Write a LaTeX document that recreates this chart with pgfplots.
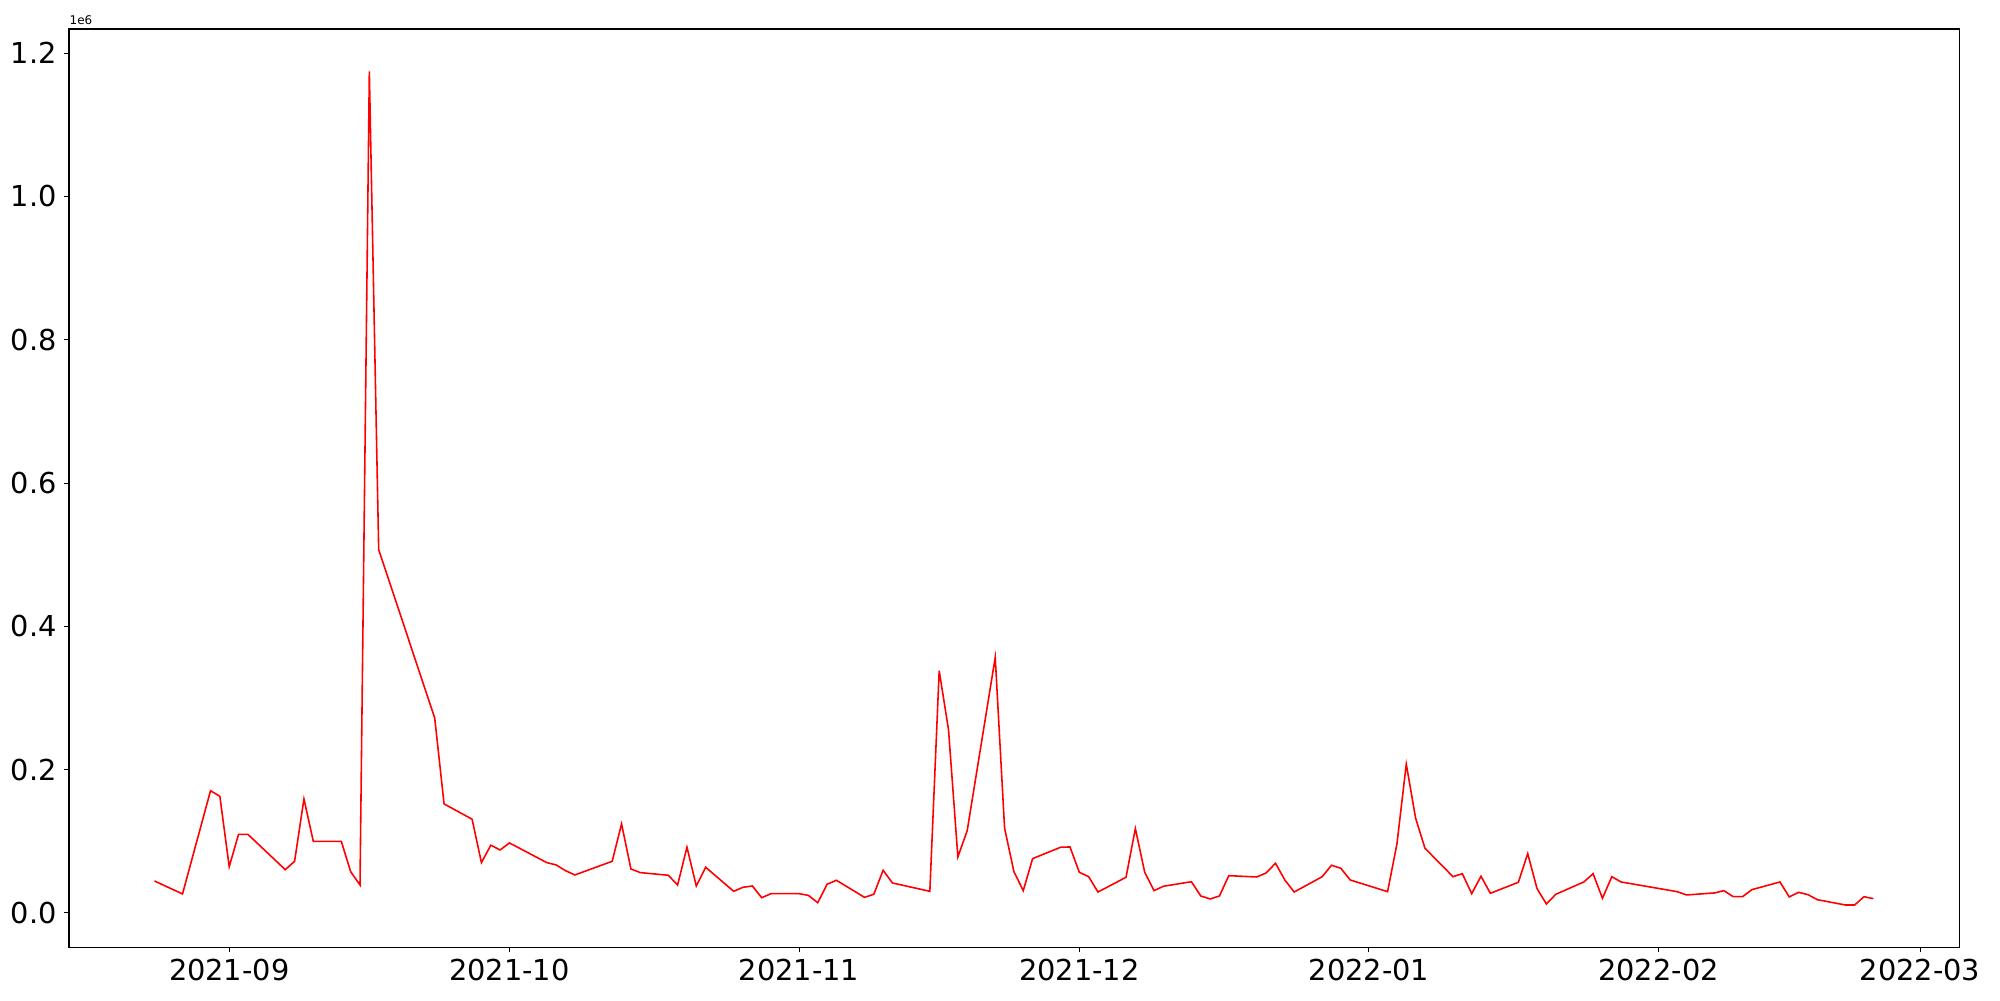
\documentclass[border=0pt]{standalone}
\usepackage{fontspec}
\setmainfont{DejaVu Sans}
\usepackage{pgfplots}
\pgfplotsset{compat=1.18}
\usepackage{pgfplotstable}
% day index: 0 = 2021-09-01
\pgfplotstableread{
d v
-8 44600
-5 26500
-2 170600
-1 162800
0 64600
1 109700
2 109700
6 60400
7 72100
8 159100
9 100000
12 100000
13 57600
14 39000
15 1174500
16 507200
22 271900
23 152200
26 130800
27 70200
28 94500
29 87900
30 97700
34 70200
35 67000
36 59000
37 53000
41 72100
42 124300
43 61400
44 56300
47 52600
48 39000
49 91700
50 37600
51 63800
54 30200
55 35800
56 37600
57 21300
58 26900
61 26900
62 24500
63 14300
64 40000
65 45600
68 21800
69 26000
70 59500
71 41800
75 30200
76 338100
77 255600
78 78200
79 114900
82 356700
83 118300
84 57600
85 31100
86 75800
89 91700
90 92100
91 56800
92 50600
93 29200
96 49800
97 117800
98 56800
99 31100
100 37200
103 43600
104 23700
105 19500
106 23700
107 52000
110 50200
111 55800
112 69300
113 46000
114 29200
117 50600
118 66600
119 62300
120 46000
124 29700
125 96300
126 207700
127 132200
128 90300
131 50600
132 54800
133 26900
134 51200
135 27400
138 42800
139 82800
140 33900
141 12500
142 26000
145 43200
146 54800
147 20400
148 50600
149 43200
155 29700
156 25100
159 27900
160 31100
161 22700
162 22700
163 32500
166 43200
167 22300
168 28800
169 25500
170 18500
173 11100
174 11100
175 22700
176 19900
}\datatable
\begin{document}
\begin{tikzpicture}
\begin{axis}[
  scale only axis,
  width=18.903cm, height=9.183cm,
  xmin=-17.15, xmax=185.2,
  ymin=-48000, ymax=1233800,
  axis line style={line width=0.3pt},
  every tick/.style={black, line width=0.3pt},
  tick align=outside,
  major tick length=0.05cm,
  xtick pos=bottom, ytick pos=left,
  xtick={0,30,61,91,122,153,181},
  xticklabels={2021-09,2021-10,2021-11,2021-12,2022-01,2022-02,2022-03},
  ytick={0,200000,400000,600000,800000,1000000,1200000},
  yticklabels={0.0,0.2,0.4,0.6,0.8,1.0,1.2},
  scaled y ticks=false,
  /pgf/number format/assume math mode=true,
  tick label style={font=\fontsize{8.2}{10}\selectfont},
  xticklabel style={inner sep=0pt, yshift=-0.057cm},
  yticklabel style={inner sep=0pt, xshift=-0.067cm},
]
\addplot[red, line width=0.45pt] table[x=d, y=v] {\datatable};
\end{axis}
\node[anchor=south west, inner sep=0pt, font=\fontsize{3.4}{4}\selectfont] at ([yshift=0.035cm]current axis.north west) {1e6};
\pgfresetboundingbox
\path[use as bounding box] ([xshift=-0.69cm, yshift=-0.527cm]current axis.south west) rectangle ([xshift=0.407cm, yshift=0.29cm]current axis.north east);
\end{tikzpicture}
\end{document}
